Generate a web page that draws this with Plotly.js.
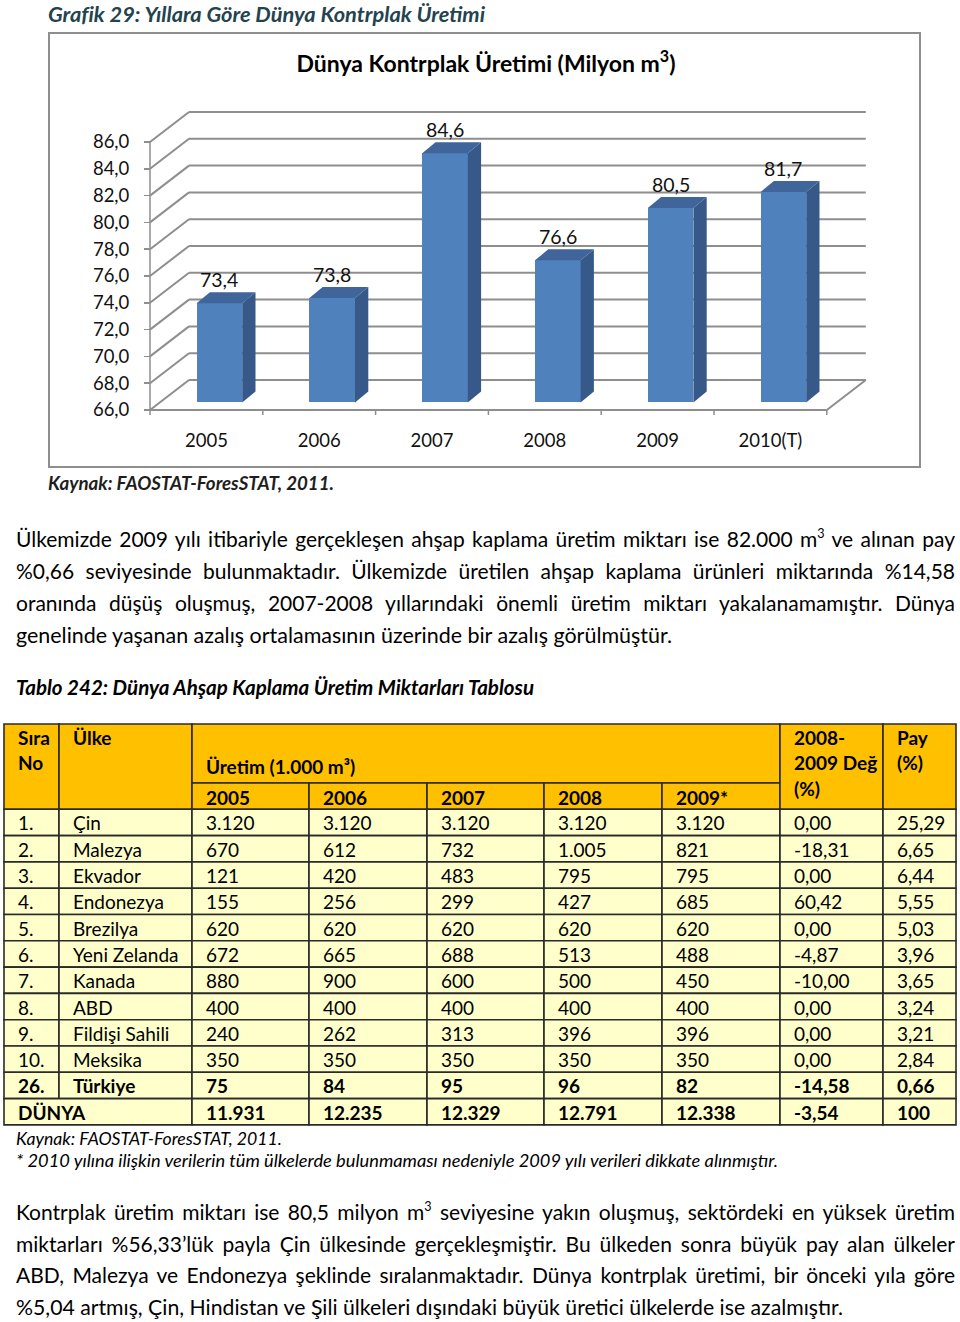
<!DOCTYPE html>
<html lang="tr">
<head>
<meta charset="utf-8">
<script src="https://cdn.plot.ly/plotly-3.0.1.min.js"></script>
<style>
  html, body { margin:0; padding:0; background:#fff; }
  body { width:960px; height:1322px; position:relative; overflow:hidden; font-family:Lato, "Open Sans", sans-serif; color:#000; }
  .ln { position:absolute; white-space:nowrap; }
  .ln > span { display:inline-block; transform-origin:0 50%; }
  .ln sup { font-size:0.6em; line-height:0; vertical-align:0.75em; }
  .para { font-size:21px; height:32px; line-height:32px; left:16px; }
  #frame { position:absolute; left:48px; top:32px; width:873px; height:436px; border:2px solid #8e8e8e; box-sizing:border-box; }
  #chart { position:absolute; left:0; top:0; width:960px; height:500px; }
  #table { position:absolute; left:0; top:720px; width:960px; height:410px; }
</style>
</head>
<body>
<div id="frame"></div>
<div id="chart"></div>

<div class="ln" data-w="437" style="left:48px;top:2px;height:24px;line-height:24px;font-size:20px;font-weight:bold;font-style:italic;color:#23434F;"><span>Grafik 29: Yıllara Göre Dünya Kontrplak Üretimi</span></div>
<div class="ln" data-w="286" style="left:48px;top:472px;height:22px;line-height:22px;font-size:18px;font-weight:bold;font-style:italic;color:#1e1e1e;"><span>Kaynak: FAOSTAT-ForesSTAT, 2011.</span></div>

<div class="ln para" data-w="939" data-j="1" style="top:522.5px;"><span>Ülkemizde 2009 yılı itibariyle gerçekleşen ahşap kaplama üretim miktarı ise 82.000 m<sup>3</sup> ve alınan pay</span></div>
<div class="ln para" data-w="939" data-j="1" style="top:554.5px;"><span>%0,66 seviyesinde bulunmaktadır. Ülkemizde üretilen ahşap kaplama ürünleri miktarında %14,58</span></div>
<div class="ln para" data-w="939" data-j="1" style="top:586.5px;"><span>oranında düşüş oluşmuş, 2007-2008 yıllarındaki önemli üretim miktarı yakalanamamıştır. Dünya</span></div>
<div class="ln para" data-w="656" style="top:618.5px;"><span>genelinde yaşanan azalış ortalamasının üzerinde bir azalış görülmüştür.</span></div>

<div class="ln" data-w="518" style="left:16px;top:675px;height:24px;line-height:24px;font-size:20px;font-weight:bold;font-style:italic;"><span>Tablo 242: Dünya Ahşap Kaplama Üretim Miktarları Tablosu</span></div>

<div id="table"></div>

<div class="ln" data-w="266" style="left:16px;top:1128px;height:22px;line-height:22px;font-size:17px;font-style:italic;"><span>Kaynak: FAOSTAT-ForesSTAT, 2011.</span></div>
<div class="ln" data-w="762" style="left:16px;top:1150px;height:22px;line-height:22px;font-size:17px;font-style:italic;"><span>* 2010 yılına ilişkin verilerin tüm ülkelerde bulunmaması nedeniyle 2009 yılı verileri dikkate alınmıştır.</span></div>

<div class="ln para" data-w="939" data-j="1" style="top:1196px;"><span>Kontrplak üretim miktarı ise 80,5 milyon m<sup>3</sup> seviyesine yakın oluşmuş, sektördeki en yüksek üretim</span></div>
<div class="ln para" data-w="939" data-j="1" style="top:1227.7px;"><span>miktarları %56,33’lük payla Çin ülkesinde gerçekleşmiştir. Bu ülkeden sonra büyük pay alan ülkeler</span></div>
<div class="ln para" data-w="939" data-j="1" style="top:1259.3px;"><span>ABD, Malezya ve Endonezya şeklinde sıralanmaktadır. Dünya kontrplak üretimi, bir önceki yıla göre</span></div>
<div class="ln para" data-w="827" style="top:1291px;"><span>%5,04 artmış, Çin, Hindistan ve Şili ülkeleri dışındaki büyük üretici ülkelerde ise azalmıştır.</span></div>

<script>
// ---------------- CHART DATA ----------------
const years = ['2005', '2006', '2007', '2008', '2009', '2010(T)'];
const production = [73.4, 73.8, 84.6, 76.6, 80.5, 81.7];
const yTicks = [66, 68, 70, 72, 74, 76, 78, 80, 82, 84, 86];

// ---------------- TABLE DATA ----------------
const siraNo = ['1.', '2.', '3.', '4.', '5.', '6.', '7.', '8.', '9.', '10.', '26.'];
const ulkeler = ['Çin', 'Malezya', 'Ekvador', 'Endonezya', 'Brezilya', 'Yeni Zelanda', 'Kanada', 'ABD', 'Fildişi Sahili', 'Meksika', 'Türkiye'];
const tabloYillar = ['2005', '2006', '2007', '2008', '2009*'];
const uretim2005 = [3120, 670, 121, 155, 620, 672, 880, 400, 240, 350, 75];
const uretim2006 = [3120, 612, 420, 256, 620, 665, 900, 400, 262, 350, 84];
const uretim2007 = [3120, 732, 483, 299, 620, 688, 600, 400, 313, 350, 95];
const uretim2008 = [3120, 1005, 795, 427, 620, 513, 500, 400, 396, 350, 96];
const uretim2009 = [3120, 821, 795, 685, 620, 488, 450, 400, 396, 350, 82];
const degisim = [0.00, -18.31, 0.00, 60.42, 0.00, -4.87, -10.00, 0.00, 0.00, 0.00, -14.58];
const pay = [25.29, 6.65, 6.44, 5.55, 5.03, 3.96, 3.65, 3.24, 3.21, 2.84, 0.66];
const dunyaLabel = 'DÜNYA';
const dunyaUretim = [11931, 12235, 12329, 12791, 12338];
const dunyaDegisim = -3.54;
const dunyaPay = 100;

// ---------------- FORMATTERS ----------------
function fmtInt(n) { return String(n).replace(/\B(?=(\d{3})+(?!\d))/g, '.'); }
function fmtDec(n) { return Number.isInteger(n) && Math.abs(n) >= 100 ? String(n) : n.toFixed(2).replace('.', ','); }
function fmt1(n) { return n.toFixed(1).replace('.', ','); }

// ---------------- CHART GEOMETRY (pixels -> data units) ----------------
const PX_CAT = 112.8, PX_UNIT = 13.4;
const FONT = 'Lato, "Open Sans", sans-serif';
const ML = 140, MR = 80, MT = 100, MB = 80, W = 960, H = 500;
const plotW = W - ML - MR, plotH = H - MT - MB;
const X0 = -0.5, X1 = years.length - 0.5, YMIN = yTicks[0], YMAX = yTicks[yTicks.length - 1];
const xr0 = X0 - 10 / PX_CAT, yr0 = YMIN - 10 / PX_UNIT;
const DX = 39 / PX_CAT, DY = 30 / PX_UNIT;          // wall depth
const BX = 13 / PX_CAT, BY = 7.6 / PX_UNIT;          // bar placement in depth
const BW = 45.6 / PX_CAT;                            // bar width
const SDX = 13.3 / PX_CAT, SDY = 11 / PX_UNIT;       // bar depth

const gridLine = { color: '#8e8e8e', width: 2 };
const shapes = [];
function seg(x0, y0, x1, y1, line) {
  shapes.push({ type: 'line', xref: 'x', yref: 'y', layer: 'below', x0, y0, x1, y1, line: line || gridLine });
}
yTicks.forEach(v => {
  seg(X0 + DX, v + DY, X1 + DX, v + DY);   // back wall grid
  seg(X0, v, X0 + DX, v + DY);             // left wall
});
seg(X1, YMIN, X1 + DX, YMIN + DY);           // floor right edge
seg(X0, YMIN, X1, YMIN);                     // floor front edge (x axis)
seg(X0, YMIN, X0, YMAX, { color: '#8e8e8e', width: 1.5 }); // front y axis line
for (let b = X0; b <= X1 + 1e-9; b += 1) {
  seg(b, YMIN, b, YMIN - 5 / PX_UNIT, { color: '#8e8e8e', width: 1.5 });
}

const traces = [];
traces.push({
  type: 'bar',
  x: years.map((_, i) => i + BX),
  y: production.map(v => v - YMIN),
  base: YMIN + BY,
  width: BW,
  marker: { color: '#4F81BD', line: { width: 0 } },
  hoverinfo: 'skip', showlegend: false
});
production.forEach((v, i) => {
  const xl = i + BX - BW / 2, xr = i + BX + BW / 2, yb = YMIN + BY, yt = v + BY;
  traces.push({ type: 'scatter', mode: 'lines', fill: 'toself', fillcolor: '#36598A', line: { width: 0 },
    x: [xr, xr + SDX, xr + SDX, xr, xr], y: [yb, yb + SDY, yt + SDY, yt, yb], hoverinfo: 'skip', showlegend: false });
  traces.push({ type: 'scatter', mode: 'lines', fill: 'toself', fillcolor: '#3F659A', line: { width: 0 },
    x: [xl, xl + SDX, xr + SDX, xr, xl], y: [yt, yt + SDY, yt + SDY, yt, yt], hoverinfo: 'skip', showlegend: false });
});

const annotations = production.map((v, i) => ({
  x: i + BX, y: v + BY + SDY, xref: 'x', yref: 'y', text: fmt1(v), showarrow: false,
  yanchor: 'bottom', yshift: -1, font: { family: FONT, size: 19.5, color: '#111' }
}));

const layout = {
  width: W, height: H,
  margin: { l: ML, r: MR, t: MT, b: MB, pad: 0 },
  paper_bgcolor: 'rgba(0,0,0,0)', plot_bgcolor: 'rgba(0,0,0,0)',
  separators: ',.',
  showlegend: false,
  title: { text: '<b>Dünya Kontrplak Üretimi (Milyon m<sup>3</sup>)</b>', x: 486 / W, xanchor: 'center', xref: 'container',
    y: 1 - 64 / H, yanchor: 'middle', yref: 'container', font: { family: FONT, size: 23, color: '#000' } },
  xaxis: { range: [xr0, xr0 + plotW / PX_CAT], anchor: 'free', position: 10 / plotH,
    tickmode: 'array', tickvals: years.map((_, i) => i), ticktext: years,
    ticks: '', showgrid: false, zeroline: false, showline: false, ticklabelstandoff: 17,
    tickfont: { family: FONT, size: 18.5, color: '#111' }, fixedrange: true },
  yaxis: { range: [yr0, yr0 + plotH / PX_UNIT], anchor: 'free', position: 10 / plotW,
    tickmode: 'array', tickvals: yTicks, tickformat: '.1f',
    ticks: 'outside', ticklen: 6, tickwidth: 1.5, tickcolor: '#8e8e8e',
    showgrid: false, zeroline: false, showline: false, ticklabelstandoff: 11,
    tickfont: { family: FONT, size: 18.5, color: '#111' }, fixedrange: true },
  bargap: 0,
  shapes, annotations
};
Plotly.newPlot('chart', traces, layout, { staticPlot: true, displayModeBar: false });

// ---------------- TABLE (drawn with Plotly shapes + annotations) ----------------
const colEdges = [4, 59, 192, 309, 427, 544, 662, 780, 883, 956];
const T_TOP = 4, T_MID = 63, T_HEAD = 89.3, ROW_H = 26.3;
const PADX = 11.5;
const HEAD_FILL = '#FFC000', BODY_FILL = '#FFFFCC', BORDER = { color: '#2a2a2a', width: 1.6 };
const tShapes = [], tAnn = [];
function cell(x0, x1, y0, y1, fill) {
  tShapes.push({ type: 'rect', xref: 'x', yref: 'y', x0, x1, y0, y1, fillcolor: fill, line: BORDER, layer: 'above' });
}
function txt(x, y, text, bold) {
  tAnn.push({ x: x + PADX, y, xref: 'x', yref: 'y', text: bold ? '<b>' + text + '</b>' : text, showarrow: false,
    xanchor: 'left', yanchor: 'middle', font: { family: FONT, size: 19, color: '#000' } });
}
const headLineY = [17.3, 42.7, 68.3];
// header
cell(colEdges[0], colEdges[1], T_TOP, T_HEAD, HEAD_FILL);
['Sıra', 'No'].forEach((t, k) => txt(colEdges[0], headLineY[k], t, true));
cell(colEdges[1], colEdges[2], T_TOP, T_HEAD, HEAD_FILL);
txt(colEdges[1], headLineY[0], 'Ülke', true);
cell(colEdges[2], colEdges[7], T_TOP, T_MID, HEAD_FILL);
txt(colEdges[2], 46.7, 'Üretim (1.000 m³)', true);
tabloYillar.forEach((y, k) => {
  cell(colEdges[2 + k], colEdges[3 + k], T_MID, T_HEAD, HEAD_FILL);
  txt(colEdges[2 + k], (T_MID + T_HEAD) / 2 + 1, y, true);
});
cell(colEdges[7], colEdges[8], T_TOP, T_HEAD, HEAD_FILL);
['2008-', '2009 Değ', '(%)'].forEach((t, k) => txt(colEdges[7], headLineY[k], t, true));
cell(colEdges[8], colEdges[9], T_TOP, T_HEAD, HEAD_FILL);
['Pay', '(%)'].forEach((t, k) => txt(colEdges[8], headLineY[k], t, true));

// body rows
const uretim = [uretim2005, uretim2006, uretim2007, uretim2008, uretim2009];
siraNo.forEach((s, r) => {
  const y0 = T_HEAD + r * ROW_H, y1 = y0 + ROW_H, yc = (y0 + y1) / 2 + 0.5;
  const bold = ulkeler[r] === 'Türkiye';
  const vals = [s, ulkeler[r]].concat(uretim.map(a => fmtInt(a[r]))).concat([fmtDec(degisim[r]), fmtDec(pay[r])]);
  vals.forEach((v, c) => {
    cell(colEdges[c], colEdges[c + 1], y0, y1, BODY_FILL);
    txt(colEdges[c], yc, v, bold);
  });
});
{
  const r = siraNo.length;
  const y0 = T_HEAD + r * ROW_H, y1 = y0 + ROW_H, yc = (y0 + y1) / 2 + 0.5;
  cell(colEdges[0], colEdges[2], y0, y1, BODY_FILL);
  txt(colEdges[0], yc, dunyaLabel, true);
  const vals = dunyaUretim.map(fmtInt).concat([fmtDec(dunyaDegisim), fmtDec(dunyaPay)]);
  vals.forEach((v, k) => {
    cell(colEdges[2 + k], colEdges[3 + k], y0, y1, BODY_FILL);
    txt(colEdges[2 + k], yc, v, true);
  });
}
Plotly.newPlot('table', [], {
  width: 960, height: 410, margin: { l: 0, r: 0, t: 0, b: 0 },
  paper_bgcolor: 'rgba(0,0,0,0)', plot_bgcolor: 'rgba(0,0,0,0)',
  xaxis: { range: [0, 960], visible: false, fixedrange: true },
  yaxis: { range: [410, 0], visible: false, fixedrange: true },
  shapes: tShapes, annotations: tAnn, showlegend: false
}, { staticPlot: true, displayModeBar: false });

// ---------------- fit text lines to the original widths ----------------
function fitLines() {
  document.querySelectorAll('.ln').forEach(el => {
    const span = el.firstElementChild;
    span.style.transform = ''; span.style.wordSpacing = '';
    const target = parseFloat(el.dataset.w);
    const w = span.getBoundingClientRect().width;
    if (!w || !target) return;
    if (el.dataset.j && w < target) {
      const n = (span.textContent.match(/ /g) || []).length;
      if (n) span.style.wordSpacing = ((target - w) / n) + 'px';
    } else {
      span.style.transform = 'scaleX(' + (target / w) + ')';
    }
  });
}
fitLines();
if (document.fonts && document.fonts.ready) document.fonts.ready.then(fitLines);
</script>
</body>
</html>
